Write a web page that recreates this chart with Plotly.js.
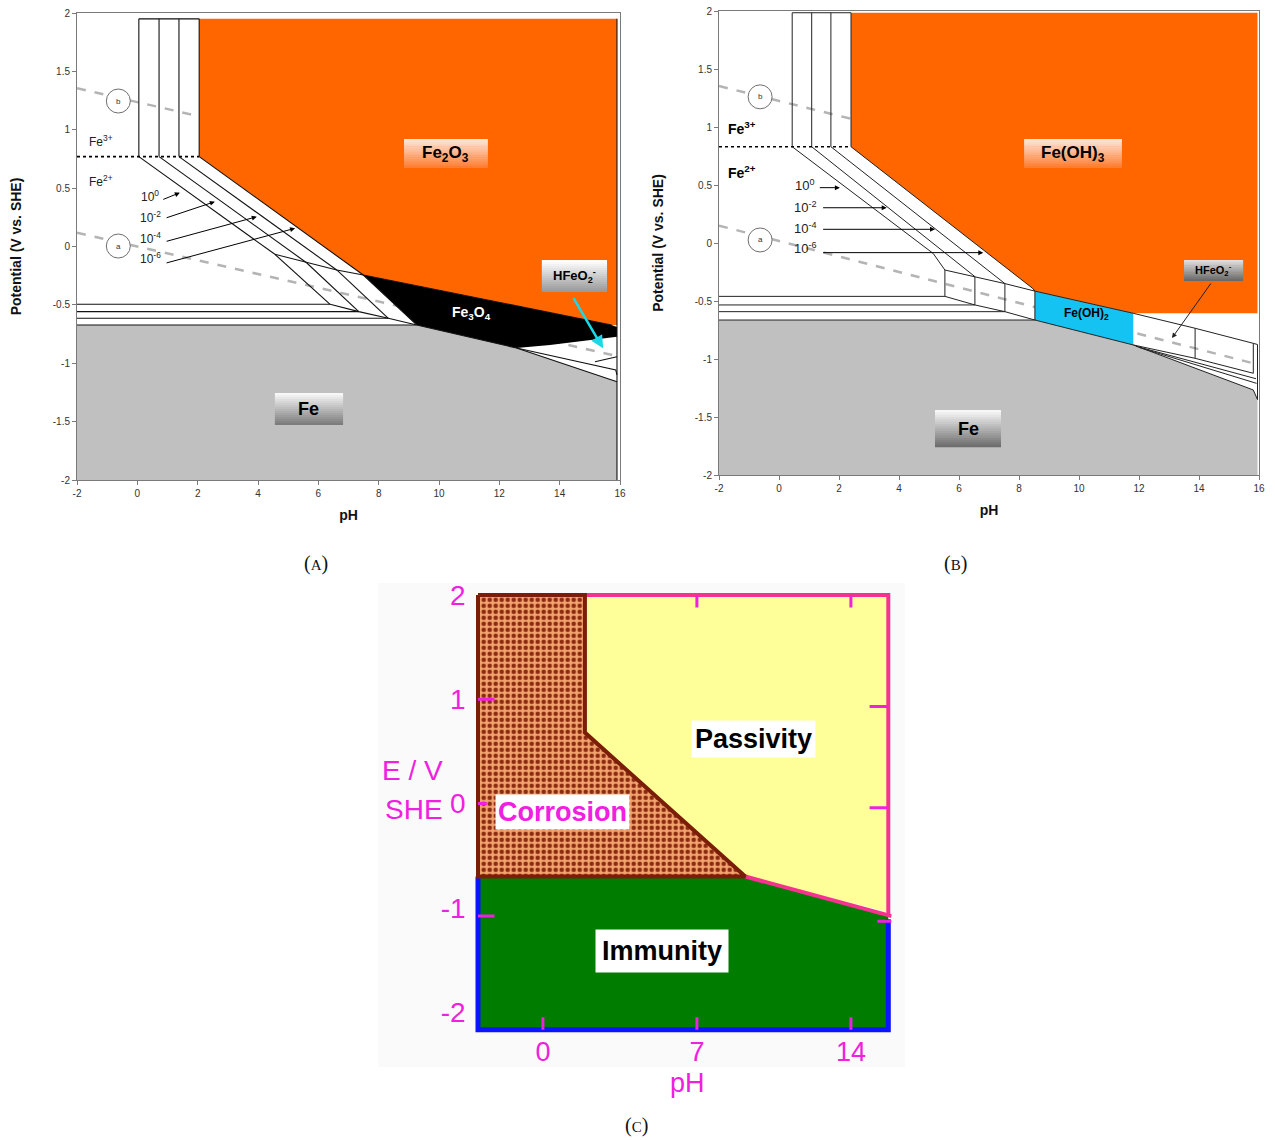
<!DOCTYPE html>
<html><head><meta charset="utf-8">
<script src="https://cdn.plot.ly/plotly-3.0.1.min.js"></script>
<style>html,body{margin:0;padding:0;background:#fff}#chart{width:1275px;height:1140px}</style>
</head><body><div id="chart"></div>
<script>
// ================= DATA =================
// Axis ticks (panels A and B)
const AB_xTickVals = [-2,0,2,4,6,8,10,12,14,16];
const AB_xTickText = ['-2','0','2','4','6','8','10','12','14','16'];
const AB_yTickVals = [-2,-1.5,-1,-0.5,0,0.5,1,1.5,2];
const AB_yTickText = ['-2','-1.5','-1','-0.5','0','0.5','1','1.5','2'];
const concLabels = ['10<sup>0</sup>','10<sup>-2</sup>','10<sup>-4</sup>','10<sup>-6</sup>'];

// ---- Panel A : Fe2O3 diagram ----
const A_vertPH = [0.05, 0.72, 1.38, 2.05];     // Fe3+ / Fe2O3 verticals (10^0 .. 10^-6)
const A_topE = 1.95;
const A_fe32E = 0.77;                          // Fe3+/Fe2+ dotted line
const A_p1PH = [4.56, 5.61, 6.61, 7.49];       // Fe2+/Fe2O3 meets Fe3O4/Fe2O3
const A_p1E  = [-0.067, -0.139, -0.201, -0.244];
const A_p2PH = [6.39, 7.34, 8.32, 9.26];       // Fe2+/Fe3O4 meets Fe2+/Fe
const A_p2E  = [-0.495, -0.558, -0.615, -0.672];
const A_fe2o3PH = [2.05, 15.9, 15.9, 15.72, 7.49, 2.05];
const A_fe2o3E  = [1.95, 1.95, -0.672, -0.672, -0.244, 0.77];
const A_fe3o4PH = [7.49, 15.72, 15.9, 15.9, 13.68, 12.57, 9.26];
const A_fe3o4E  = [-0.244, -0.672, -0.69, -0.773, -0.844, -0.87, -0.672];
const A_fePH = [-2, 9.26, 12.57, 15.9, 15.9, -2];
const A_feE  = [-0.672, -0.672, -0.87, -1.158, -2, -2];
const A_extraPH = [[12.57, 15.86, 15.9], [15.17, 15.9]];
const A_extraE  = [[-0.87, -1.058, -1.1], [-0.987, -0.944]];
const A_lineA_PH = [-2, 16], A_lineA_E = [0.118, -0.944];
const A_lineB_PH = [-2, 16], A_lineB_E = [1.355, 0.29];
const A_concPH = [0.42, 0.42, 0.42, 0.42];
const A_concE  = [0.43, 0.255, 0.07, -0.10];
const A_arrTailPH = [0.81, 0.92, 0.92, 0.92];
const A_arrTailE  = [0.398, 0.242, 0.041, -0.144];
const A_arrHeadPH = [1.41, 2.57, 3.96, 5.23];
const A_arrHeadE  = [0.461, 0.384, 0.255, 0.156];

// ---- Panel B : Fe(OH)3 diagram ----
const B_vertPH = [0.44, 1.09, 1.73, 2.4];
const B_topE = 1.985;
const B_fe32E = 0.83;
const B_diagPH = [[0.44, 5.14, 5.53], [1.09, 6.53], [1.73, 7.53], [2.4, 8.45, 8.53]];
const B_diagE  = [[0.83, -0.09, -0.233], [0.83, -0.29], [0.83, -0.35], [0.83, -0.39, -0.415]];
const B_p1PH = [5.53, 6.53, 7.53, 8.53];
const B_p1E  = [-0.233, -0.29, -0.35, -0.415];
const B_p2E  = [-0.46, -0.534, -0.592, -0.664];
const B_feoh3PH = [2.4, 15.95, 15.95, 11.81, 8.53, 8.45, 2.4];
const B_feoh3E  = [1.985, 1.985, -0.606, -0.606, -0.415, -0.39, 0.83];
const B_feoh2PH = [8.53, 11.81, 11.81, 8.53];
const B_feoh2E  = [-0.415, -0.606, -0.879, -0.664];
const B_fePH = [-2, 8.53, 11.81, 15.81, 15.95, 15.95, -2];
const B_feE  = [-0.664, -0.664, -0.879, -1.267, -1.35, -2, -2];
const B_hTopPH = [11.81, 13.87, 15.81, 15.95], B_hTopE = [-0.606, -0.735, -0.865, -0.875];
const B_hBotPH = [11.81, 13.87, 15.81],        B_hBotE = [-0.879, -0.994, -1.123];
const B_extraPH = [[11.9, 15.9], [12.0, 15.92]];
const B_extraE  = [[-0.89, -1.17], [-0.9, -1.21]];
const B_lineA_PH = [-2, 16], B_lineA_E = [0.15, -1.05];
const B_lineB_PH = [-2, 16], B_lineB_E = [1.353, 0.2];
const B_concPH = [0.87, 0.87, 0.87, 0.87];
const B_concE  = [0.5, 0.313, 0.127, -0.046];
const B_arrTailPH = [1.31, 1.42, 1.42, 1.42];
const B_arrHeadPH = [2.03, 3.59, 5.2, 6.81];
const B_arrE      = [0.477, 0.304, 0.118, -0.083];

// ---- Panel C : simplified diagram ----
const C_corrPH = [-2.95, 1.91, 1.91, 9.2, -2.95, -2.95];
const C_corrE  = [2.0, 2.0, 0.68, -0.7, -0.7, 2.0];
const C_passPH = [1.91, 15.7, 15.7, 9.2, 1.91];
const C_passE  = [2.0, 2.0, -1.04, -0.7, 0.68];
const C_immPH  = [-2.95, 9.2, 15.7, 15.7, -2.95];
const C_immE   = [-0.7, -0.7, -1.06, -2.17, -2.17];
const C_xTickVals = [0, 7, 14], C_xTickText = ['0', '7', '14'];
const C_yTickVals = [-2, -1, 0, 1, 2], C_yTickText = ['-2', '-1', '0', '1', '2'];

// ================= BUILD =================
const F = 'Liberation Sans, Arial, sans-serif';
function segs(list){const x=[],y=[];for(const [xs,ys] of list){for(let i=0;i<xs.length;i++){x.push(xs[i]);y.push(ys[i]);}x.push(null);y.push(null);}return {x,y};}
function lineTrace(xa, ya, list, color, width, dash){const s=segs(list);return {type:'scatter',mode:'lines',x:s.x,y:s.y,xaxis:xa,yaxis:ya,line:{color:color,width:width,dash:dash||'solid'},hoverinfo:'skip',connectgaps:false};}
function fillTrace(xa, ya, xs, ys, color){return {type:'scatter',mode:'lines',x:xs,y:ys,xaxis:xa,yaxis:ya,fill:'toself',fillcolor:color,line:{width:0,color:color},hoverinfo:'skip'};}

const traces = [];
// dashed water lines (under fills)
traces.push(lineTrace('x','y',[[A_lineA_PH,A_lineA_E],[A_lineB_PH,A_lineB_E]],'#b4b4b4',2.5,'dash'));
traces.push(lineTrace('x2','y2',[[B_lineA_PH,B_lineA_E],[B_lineB_PH,B_lineB_E]],'#b4b4b4',2.5,'dash'));
// fills A
traces.push(fillTrace('x','y',A_fe2o3PH,A_fe2o3E,'#ff6600'));
traces.push(fillTrace('x','y',A_fePH,A_feE,'#c0c0c0'));
traces.push(fillTrace('x','y',A_fe3o4PH,A_fe3o4E,'#000000'));
// fills B
traces.push(fillTrace('x2','y2',B_feoh3PH,B_feoh3E,'#ff6600'));
traces.push(fillTrace('x2','y2',B_fePH,B_feE,'#c0c0c0'));
traces.push(fillTrace('x2','y2',B_feoh2PH,B_feoh2E,'#14c3f2'));

// lines A
const aSeg = [];
for (let k=0;k<4;k++) aSeg.push([[A_vertPH[k],A_vertPH[k]],[A_fe32E,A_topE]]);
aSeg.push([[A_vertPH[0],A_vertPH[3]],[A_topE,A_topE]]);
for (let k=0;k<4;k++) aSeg.push([[A_vertPH[k],A_p1PH[k]],[A_fe32E,A_p1E[k]]]);
aSeg.push([A_p1PH,A_p1E]);
aSeg.push([[A_p1PH[3],A_fe3o4PH[1]],[A_p1E[3],A_fe3o4E[1]]]);
for (let k=0;k<4;k++) aSeg.push([[A_p1PH[k],A_p2PH[k]],[A_p1E[k],A_p2E[k]]]);
for (let k=0;k<4;k++) aSeg.push([[-2,A_p2PH[k]],[A_p2E[k],A_p2E[k]]]);
aSeg.push([A_p2PH,A_p2E]);
aSeg.push([A_fePH.slice(1,4),A_feE.slice(1,4)]);
aSeg.push([A_extraPH[0],A_extraE[0]]);
aSeg.push([A_extraPH[1],A_extraE[1]]);
aSeg.push([[15.9,15.9],[-2,A_topE]]);
traces.push(lineTrace('x','y',aSeg,'#111',1.1));
traces.push(lineTrace('x','y',[[[-2,A_vertPH[3]],[A_fe32E,A_fe32E]]],'#000',1.6,'dot'));

// lines B
const bSeg = [];
for (let k=0;k<4;k++) bSeg.push([[B_vertPH[k],B_vertPH[k]],[B_fe32E,B_topE]]);
bSeg.push([[B_vertPH[0],B_vertPH[3]],[B_topE,B_topE]]);
for (let k=0;k<4;k++) bSeg.push([B_diagPH[k],B_diagE[k]]);
for (let k=0;k<4;k++) bSeg.push([[B_p1PH[k],B_p1PH[k]],[B_p1E[k],B_p2E[k]]]);
for (let k=0;k<4;k++) bSeg.push([[-2,B_p1PH[k]],[B_p2E[k],B_p2E[k]]]);
bSeg.push([B_p1PH.concat([B_feoh2PH[1]]),B_p1E.concat([B_feoh2E[1]])]);
bSeg.push([B_p1PH.concat([B_feoh2PH[2]]),B_p2E.concat([B_feoh2E[2]])]);
bSeg.push([B_hTopPH,B_hTopE]);
bSeg.push([B_hBotPH,B_hBotE]);
bSeg.push([[B_hTopPH[1],B_hBotPH[1]],[B_hTopE[1],B_hBotE[1]]]);
bSeg.push([[B_hTopPH[2],B_hBotPH[2]],[B_hTopE[2],B_hBotE[2]]]);
bSeg.push([B_fePH.slice(2,5),B_feE.slice(2,5)]);
bSeg.push([B_extraPH[0],B_extraE[0]]);
bSeg.push([B_extraPH[1],B_extraE[1]]);
bSeg.push([[15.95,15.95],[B_hTopE[3],B_feE[4]]]);
traces.push(lineTrace('x2','y2',bSeg,'#222',1));
traces.push(lineTrace('x2','y2',[[[-2,B_vertPH[3]],[B_fe32E,B_fe32E]]],'#000',1.6,'dot'));

// Panel C
traces.push(fillTrace('x3','y3',C_passPH,C_passE,'#ffff99'));
traces.push(fillTrace('x3','y3',C_immPH,C_immE,'#007d00'));
traces.push({type:'scatter',mode:'lines',x:C_corrPH,y:C_corrE,xaxis:'x3',yaxis:'y3',fill:'toself',
  fillcolor:'#f3a46e',fillpattern:{shape:'.',fgcolor:'#8b2a10',bgcolor:'#f3a46e',size:6,solidity:0.45},
  line:{width:0},hoverinfo:'skip'});
traces.push(lineTrace('x3','y3',[[[C_passPH[0],C_passPH[1],C_passPH[2]],[C_passE[0],C_passE[1],C_immE[2]]],
  [[C_immPH[1],C_immPH[2]+0.15],[C_immE[1],C_immE[2]-0.02]]],'#f5338f',4));
traces.push(lineTrace('x3','y3',[[[C_immPH[0],C_immPH[0],C_immPH[3],C_immPH[3]],[C_immE[0],C_immE[3],C_immE[3],C_immE[2]-0.05]]],'#0a14ff',5));
traces.push(lineTrace('x3','y3',[[C_corrPH,C_corrE]],'#7a1e0a',4));

// ================= SHAPES =================
const shapes = [];
function hex2rgb(h){return [1,3,5].map(i=>parseInt(h.substr(i,2),16));}
function gradBox(xr,yr,x0,x1,y0,y1,cTop,cBot,n){
  const a=hex2rgb(cTop), b=hex2rgb(cBot);
  for(let i=0;i<n;i++){
    const t=i/(n-1);
    const c='rgb('+a.map((v,j)=>Math.round(v+(b[j]-v)*t)).join(',')+')';
    const yt=y1-(y1-y0)*i/n, yb=y1-(y1-y0)*(i+1.3)/n;
    shapes.push({type:'rect',xref:xr,yref:yr,x0:x0,x1:x1,y0:Math.max(yb,y0),y1:yt,fillcolor:c,line:{width:0},layer:'above'});
  }
}
// background of the photo in C
shapes.push({type:'rect',xref:'paper',yref:'paper',x0:378/1275,x1:905/1275,y0:1-1067/1140,y1:1-583/1140,fillcolor:'#fafafa',line:{width:0},layer:'below'});
gradBox('x','y',8.84,11.62,0.672,0.921,'#fde6da','#ff7e33',16);
gradBox('x','y',4.56,6.82,-1.529,-1.255,'#f7f7f7','#7c7c7c',16);
gradBox('x','y',13.41,15.57,-0.39,-0.116,'#ffffff','#9a9a9a',16);
gradBox('x2','y2',8.17,11.43,0.647,0.897,'#fde6da','#ff7e33',16);
gradBox('x2','y2',5.2,7.4,-1.76,-1.44,'#f7f7f7','#6e6e6e',16);
gradBox('x2','y2',13.5,15.47,-0.328,-0.147,'#dedede','#6a6a6a',12);
// a/b circles
const circ = [['x','y',-0.63,1.246],['x','y',-0.63,0.004],['x2','y2',-0.63,1.26],['x2','y2',-0.63,0.026]];
circ.forEach(c=>shapes.push({type:'circle',xref:c[0],yref:c[1],xsizemode:'pixel',ysizemode:'pixel',xanchor:c[2],yanchor:c[3],
  x0:-12,x1:12,y0:-12,y1:12,fillcolor:'#ffffff',line:{color:'#6e6e6e',width:1}}));
// magenta tick marks in C
const MG = '#f020e0';
[[7,2.0,7,1.88],[14,2.0,14,1.88],[0,-2.17,0,-2.05],[7,-2.17,7,-2.05],[14,-2.17,14,-2.05],
 [-2.95,1,-2.2,1],[-2.95,0,-2.55,0],[-2.95,-1.08,-2.2,-1.08],
 [14.85,0.93,15.7,0.93],[14.85,-0.04,15.7,-0.04],[15.2,-1.13,15.85,-1.13]].forEach(t=>
  shapes.push({type:'line',xref:'x3',yref:'y3',x0:t[0],y0:t[1],x1:t[2],y1:t[3],line:{color:MG,width:3}}));

// ================= ANNOTATIONS =================
const ann = [];
function txt(xr,yr,x,y,text,size,color,extra){ann.push(Object.assign({xref:xr,yref:yr,x:x,y:y,xanchor:'center',yanchor:'middle',text:text,showarrow:false,font:{family:F,size:size,color:color||'#000'}},extra||{}));}
function arr(xr,yr,x,y,ax,ay,color,w){ann.push({xref:xr,yref:yr,x:x,y:y,axref:xr,ayref:yr,ax:ax,ay:ay,text:'',showarrow:true,arrowhead:2,arrowsize:1,arrowwidth:w||1,arrowcolor:color||'#000',standoff:0,startstandoff:0});}
// A
txt('x','y',10.23,0.79,'<b>Fe<sub>2</sub>O<sub>3</sub></b>',17);
txt('x','y',11.09,-0.57,'<b>Fe<sub>3</sub>O<sub>4</sub></b>',14,'#ffffff');
txt('x','y',5.69,-1.39,'<b>Fe</b>',18);
txt('x','y',14.49,-0.25,'<b>HFeO<sub>2</sub><sup>-</sup></b>',13);
txt('x','y',-1.2,0.9,'Fe<sup>3+</sup>',12,'#222');
txt('x','y',-1.2,0.56,'Fe<sup>2+</sup>',12,'#222');
txt('x','y',-0.63,1.246,'b',8,'#333');
txt('x','y',-0.63,0.004,'a',8,'#333');
for(let k=0;k<4;k++){txt('x','y',A_concPH[k],A_concE[k],concLabels[k],12,'#222');arr('x','y',A_arrHeadPH[k],A_arrHeadE[k],A_arrTailPH[k],A_arrTailE[k]);}
arr('x','y',15.44,-0.872,14.43,-0.43,'#19d8e8',2.5);
// B
txt('x2','y2',9.8,0.77,'<b>Fe(OH)<sub>3</sub></b>',17);
txt('x2','y2',10.25,-0.615,'<b>Fe(OH)<sub>2</sub></b>',12);
txt('x2','y2',6.3,-1.6,'<b>Fe</b>',18);
txt('x2','y2',14.48,-0.237,'<b>HFeO<sub>2</sub><sup>-</sup></b>',11);
txt('x2','y2',-1.25,0.99,'<b>Fe<sup>3+</sup></b>',14);
txt('x2','y2',-1.25,0.61,'<b>Fe<sup>2+</sup></b>',14);
txt('x2','y2',-0.63,1.26,'b',8,'#333');
txt('x2','y2',-0.63,0.026,'a',8,'#333');
for(let k=0;k<4;k++){txt('x2','y2',B_concPH[k],B_concE[k],concLabels[k],13,'#222');arr('x2','y2',B_arrHeadPH[k],B_arrE[k],B_arrTailPH[k],B_arrE[k]);}
arr('x2','y2',13.1,-0.819,14.43,-0.336,'#222',1);
// C
txt('x3','y3',9.55,0.62,'<b>Passivity</b>',27,'#000',{bgcolor:'#ffffff',borderpad:3});
txt('x3','y3',0.89,-0.086,'<b>Corrosion</b>',27,'#f020e0',{bgcolor:'#ffffff',borderpad:2});
txt('x3','y3',5.41,-1.415,'<b>Immunity</b>',27,'#000',{bgcolor:'#ffffff',borderpad:6});
txt('paper','paper',412/1275,1-770/1140,'E / V',28,MG);
txt('paper','paper',414/1275,1-809/1140,'SHE',28,MG);
txt('paper','paper',688/1275,1-1083/1140,'pH',27,MG);
// captions
const capFont = 'Liberation Serif, DejaVu Serif, serif';
[['A',316,563],['B',955,563],['C',636,1125]].forEach(c=>ann.push({xref:'paper',yref:'paper',x:c[1]/1275,y:1-c[2]/1140,
  xanchor:'center',yanchor:'middle',showarrow:false,
  text:'(<span style="font-size:15px">'+c[0]+'</span>)',font:{family:capFont,size:20,color:'#111'}}));

// ================= LAYOUT =================
function abX(dom,anchor){return {domain:dom,anchor:anchor,range:[-2,16],tickvals:AB_xTickVals,ticktext:AB_xTickText,
  showline:true,mirror:true,linecolor:'#7a7a7a',linewidth:1,ticks:'outside',ticklen:4,tickcolor:'#7a7a7a',
  showgrid:false,zeroline:false,tickfont:{family:F,size:10,color:'#333'},
  title:{text:'<b>pH</b>',font:{family:F,size:14,color:'#111'},standoff:12},fixedrange:true};}
function abY(dom,anchor){return {domain:dom,anchor:anchor,range:[-2,2],tickvals:AB_yTickVals,ticktext:AB_yTickText,
  showline:true,mirror:true,linecolor:'#7a7a7a',linewidth:1,ticks:'outside',ticklen:4,tickcolor:'#7a7a7a',
  showgrid:false,zeroline:false,tickfont:{family:F,size:10,color:'#333'},
  title:{text:'<b>Potential (V vs. SHE)</b>',font:{family:F,size:14,color:'#111'},standoff:27},fixedrange:true};}

const layout = {
  width:1275,height:1140,margin:{l:0,r:0,t:0,b:0},showlegend:false,
  paper_bgcolor:'#ffffff',plot_bgcolor:'rgba(0,0,0,0)',
  xaxis:abX([77/1275,620/1275],'y'),
  yaxis:abY([1-480/1140,1-13/1140],'x'),
  xaxis2:abX([719/1275,1259/1275],'y2'),
  yaxis2:abY([1-475/1140,1-11/1140],'x2'),
  xaxis3:{domain:[474.7/1275,891.6/1275],anchor:'y3',range:[-3.1,15.85],tickvals:C_xTickVals,ticktext:C_xTickText,
    showline:false,ticks:'',showgrid:false,zeroline:false,ticklabelstandoff:0,
    tickfont:{family:F,size:27,color:MG},fixedrange:true},
  yaxis3:{domain:[1-1032.9/1140,1-590.8/1140],anchor:'x3',range:[-2.2,2.04],tickvals:C_yTickVals,ticktext:C_yTickText,
    showline:false,ticks:'',showgrid:false,zeroline:false,ticklabelstandoff:8,
    tickfont:{family:F,size:28,color:MG},fixedrange:true},
  shapes:shapes,annotations:ann
};
Plotly.newPlot('chart',traces,layout,{displayModeBar:false,staticPlot:true});
</script></body></html>
